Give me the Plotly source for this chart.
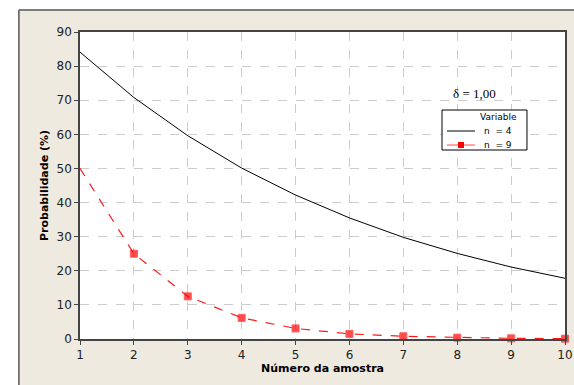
import plotly.graph_objects as go

amostra = [1, 2, 3, 4, 5, 6, 7, 8, 9, 10]
prob_n4 = [84.1, 70.8, 59.6, 50.1, 42.2, 35.5, 29.8, 25.1, 21.1, 17.8]
prob_n9 = [50.0, 25.0, 12.5, 6.2, 3.1, 1.5, 0.8, 0.4, 0.2, 0.1]
x_ticks = [1, 2, 3, 4, 5, 6, 7, 8, 9, 10]
y_ticks = [0, 10, 20, 30, 40, 50, 60, 70, 80, 90]
legend_title = "Variable"
series_names = ["n  = 4", "n  = 9"]

fig = go.Figure()
fig.add_trace(go.Scatter(x=amostra, y=prob_n4, mode="lines", name=series_names[0],
                         line=dict(color="black", width=1)))
fig.add_trace(go.Scatter(x=amostra, y=prob_n9, mode="lines+markers", name=series_names[1],
                         line=dict(color="#ff1a1a", width=1.2, dash="dash"),
                         cliponaxis=False,
                         marker=dict(symbol="square", color="red",
                                     size=[0] + [7] * 9)))

beige = "#EEEAE0"
P = dict(xref="paper", yref="paper")
# beige panel with dark top/left edge
fig.add_shape(type="rect", x0=-0.126, x1=1.03, y0=-0.2, y1=1.072,
              fillcolor=beige, line=dict(width=0), layer="below", **P)
fig.add_shape(type="rect", x0=0, x1=1, y0=0, y1=1,
              fillcolor="white", line=dict(width=0), layer="below", **P)
fig.add_shape(type="line", x0=-0.126, x1=1.03, y0=1.072, y1=1.072,
              line=dict(color="#555", width=1.5), layer="below", **P)
fig.add_shape(type="line", x0=-0.126, x1=-0.126, y0=-0.2, y1=1.072,
              line=dict(color="#555", width=1.5), layer="below", **P)

fig.add_annotation(x=0.814, y=0.801, text="δ = 1,00", showarrow=False,
                   xanchor="center", yanchor="middle",
                   font=dict(family="Liberation Serif", size=13, color="black"), **P)

# legend box
fig.add_shape(type="rect", x0=0.7464, x1=0.9216, y0=0.6156, y1=0.7459,
              fillcolor="white", line=dict(color="black", width=1), **P)
fig.add_annotation(x=0.8619, y=0.7231, text=legend_title, showarrow=False,
                   xanchor="center", yanchor="middle",
                   font=dict(family="DejaVu Sans", size=9, color="black"), **P)
fig.add_shape(type="line", x0=0.7567, x1=0.8144, y0=0.6775, y1=0.6775,
              line=dict(color="black", width=1), **P)
fig.add_annotation(x=0.8289, y=0.6775, text=series_names[0], showarrow=False,
                   xanchor="left", yanchor="middle",
                   font=dict(family="DejaVu Sans", size=9, color="black"), **P)
fig.add_shape(type="line", x0=0.7567, x1=0.8144, y0=0.6319, y1=0.6319,
              line=dict(color="#ff6666", width=1.2), **P)
fig.add_shape(type="rect", x0=0.7794, x1=0.7918, y0=0.6221, y1=0.6417,
              fillcolor="red", line=dict(width=0), **P)
fig.add_annotation(x=0.8289, y=0.6319, text=series_names[1], showarrow=False,
                   xanchor="left", yanchor="middle",
                   font=dict(family="DejaVu Sans", size=9, color="black"), **P)

axis_common = dict(showline=True, linecolor="#444", linewidth=1.5, mirror=True,
                   ticks="outside", ticklen=4, tickcolor="#444",
                   showgrid=True, gridcolor="#cccccc", griddash="dash", gridwidth=1,
                   zeroline=False, automargin=False,
                   tickfont=dict(family="DejaVu Sans", size=12, color="#222"))

fig.update_xaxes(range=[1, 10], tickvals=x_ticks,
                 title=dict(text="<b>Número da amostra</b>", standoff=2,
                            font=dict(family="DejaVu Sans", size=11, color="black")),
                 **axis_common)
fig.update_yaxes(range=[0, 90], tickvals=y_ticks,
                 title=dict(text="<b>Probabilidade (%)</b>", standoff=6,
                            font=dict(family="DejaVu Sans", size=11, color="black")),
                 **axis_common)

fig.update_layout(
    width=574, height=385,
    margin=dict(l=80, r=9, t=32, b=46),
    paper_bgcolor="white", plot_bgcolor="white",
    showlegend=False,
)

fig.write_html("out.html", config={"displayModeBar": False},
               post_script="document.body.style.margin='0';document.body.style.overflow='hidden';")
